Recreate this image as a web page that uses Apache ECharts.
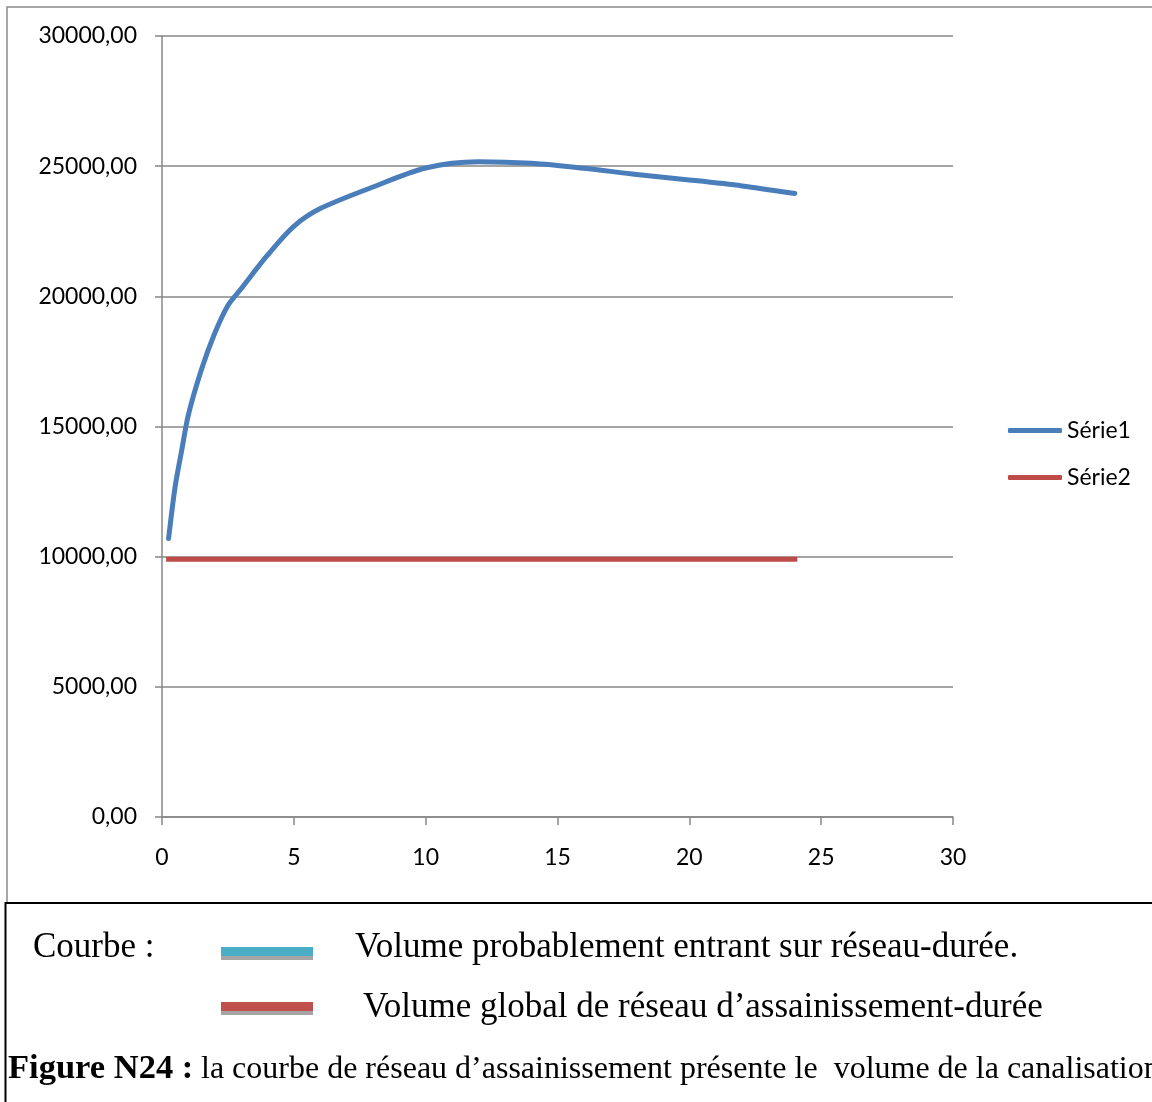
<!DOCTYPE html>
<html>
<head>
<meta charset="utf-8">
<script src="https://cdn.jsdelivr.net/npm/echarts@6/dist/echarts.min.js"></script>
<style>
  html, body { margin: 0; padding: 0; background: #fff; }
  #chart { width: 1152px; height: 1102px; }
</style>
</head>
<body>
<div id="chart"></div>
<script>
// Durée (h) and volumes (m³)
const durations = [0.25, 0.5, 0.75, 1, 1.5, 2, 2.5, 3, 4, 5, 6, 8, 10, 12, 14, 16, 18, 20, 22, 24];
const serie1 = [10700, 12700, 14100, 15450, 17200, 18580, 19650, 20290, 21580, 22690, 23370, 24200, 24930, 25170, 25110, 24920, 24680, 24470, 24240, 23950];
const serie2Durations = [0.25, 24];
const serie2 = [9900, 9900];
const seriesNames = ['Série1', 'Série2'];
const yTicks = { min: 0, max: 30000, step: 5000 };
const xTicks = { min: 0, max: 30, step: 5 };
const captionLines = [
  'Courbe :',
  'Volume probablement entrant sur réseau-durée.',
  'Volume global de réseau d\u2019assainissement-durée',
  'Figure N24 :',
  'la courbe de réseau d\u2019assainissement présente le  volume de la canalisation'
];

const pairs = (xs, ys) => xs.map((x, i) => [x, ys[i]]);
const grey = '#878787';
const labelFont = 'Lato, "Open Sans", sans-serif';
const serif = '"Liberation Serif", "Times New Roman", serif';

const chart = echarts.init(document.getElementById('chart'), null, { renderer: 'canvas' });
chart.setOption({
  backgroundColor: '#ffffff',
  animation: false,
  grid: { left: 162, top: 36, width: 791, height: 781, containLabel: false },
  xAxis: {
    type: 'value', min: xTicks.min, max: xTicks.max, interval: xTicks.step,
    axisLine: { show: true, lineStyle: { color: grey, width: 1.5 } },
    axisTick: { show: true, length: 8, lineStyle: { color: grey, width: 1.5 } },
    splitLine: { show: false },
    axisLabel: { color: '#000', fontFamily: labelFont, fontSize: 23, margin: 29 }
  },
  yAxis: {
    type: 'value', min: yTicks.min, max: yTicks.max, interval: yTicks.step,
    axisLine: { show: true, lineStyle: { color: grey, width: 1.5 } },
    axisTick: { show: true, length: 7, lineStyle: { color: grey, width: 1.5 } },
    splitLine: { show: true, lineStyle: { color: grey, width: 1.5 } },
    axisLabel: {
      color: '#000', fontFamily: labelFont, fontSize: 23, margin: 25,
      formatter: v => v.toFixed(2).replace('.', ',')
    }
  },
  legend: {
    orient: 'vertical', left: 1003, top: 414, itemWidth: 54, itemHeight: 5, itemGap: 24,
    icon: 'roundRect',
    textStyle: { color: '#000', fontFamily: labelFont, fontSize: 23 },
    data: seriesNames
  },
  series: [
    {
      name: seriesNames[0], type: 'line', smooth: 0.3, symbol: 'none',
      data: pairs(durations, serie1),
      color: '#4a7ebb',
      lineStyle: { color: '#4a7ebb', width: 5, cap: 'round', join: 'round' }
    },
    {
      name: seriesNames[1], type: 'line', symbol: 'none',
      data: pairs(serie2Durations, serie2),
      color: '#be4b48',
      lineStyle: { color: '#be4b48', width: 5, cap: 'square' }
    }
  ],
  graphic: [
    // outer chart frame
    { type: 'rect', silent: true, z: -1, shape: { x: 7, y: 7, width: 1160, height: 896 },
      style: { fill: null, stroke: '#8a8a8a', lineWidth: 1.5 } },
    // caption box
    { type: 'rect', silent: true, z: 10, shape: { x: 5.5, y: 903, width: 1160, height: 220 },
      style: { fill: '#fff', stroke: '#000', lineWidth: 2 } },
    // caption swatches
    { type: 'rect', silent: true, z: 11, shape: { x: 221, y: 947, width: 92, height: 9 }, style: { fill: '#4bacc6' } },
    { type: 'rect', silent: true, z: 11, shape: { x: 221, y: 956, width: 92, height: 4 }, style: { fill: '#a5a5a5' } },
    { type: 'rect', silent: true, z: 11, shape: { x: 221, y: 1002, width: 92, height: 9 }, style: { fill: '#c0504d' } },
    { type: 'rect', silent: true, z: 11, shape: { x: 221, y: 1011, width: 92, height: 4 }, style: { fill: '#a5a5a5' } },
    // caption text
    { type: 'text', silent: true, z: 12, x: 33, y: 948,
      style: { text: captionLines[0], fill: '#000', font: '35px ' + serif, verticalAlign: 'middle' } },
    { type: 'text', silent: true, z: 12, x: 355, y: 948,
      style: { text: captionLines[1], fill: '#000', font: '35px ' + serif, verticalAlign: 'middle' } },
    { type: 'text', silent: true, z: 12, x: 363, y: 1008,
      style: { text: captionLines[2], fill: '#000', font: '35px ' + serif, verticalAlign: 'middle' } },
    { type: 'text', silent: true, z: 12, x: 8, y: 1069,
      style: { text: captionLines[3], fill: '#000', font: 'bold 34.5px ' + serif, verticalAlign: 'middle' } },
    { type: 'text', silent: true, z: 12, x: 201, y: 1070,
      style: { text: captionLines[4], fill: '#000', font: '32px ' + serif, verticalAlign: 'middle' } }
  ]
});
</script>
</body>
</html>
